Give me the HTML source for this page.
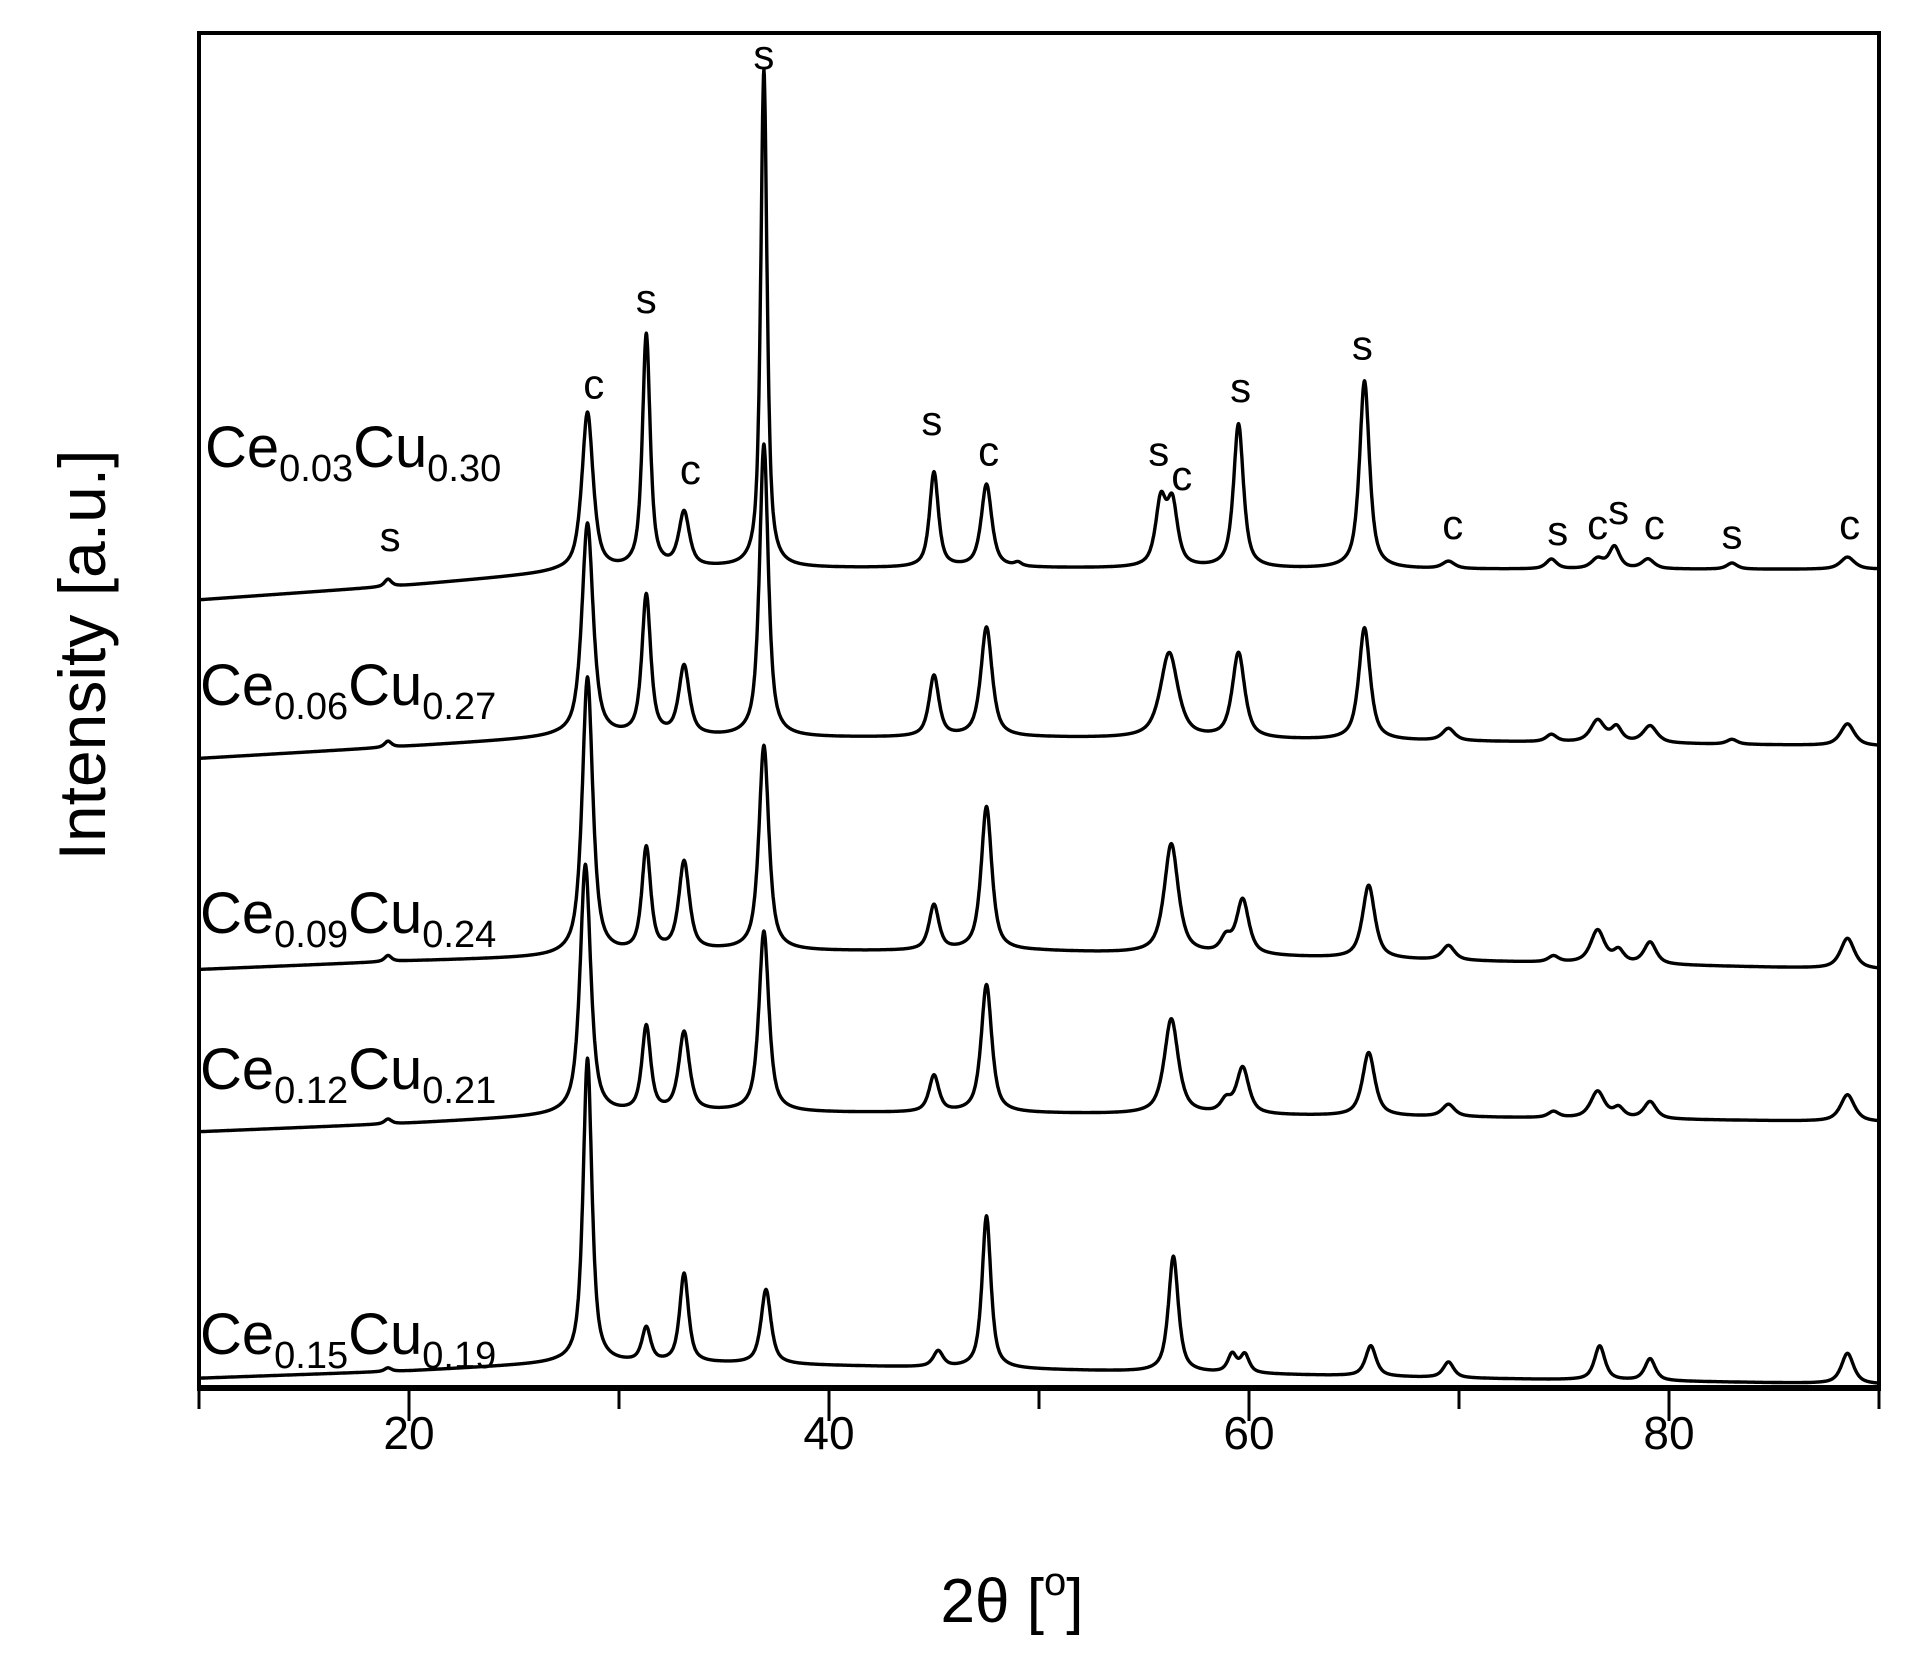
<!DOCTYPE html>
<html><head><meta charset="utf-8"><style>
html,body{margin:0;padding:0;background:#fff;}
svg{display:block;font-family:"Liberation Sans",Arial,sans-serif;}
</style></head><body>
<svg id="chart" width="1913" height="1670" viewBox="0 0 1913 1670" xmlns="http://www.w3.org/2000/svg">
<g id="series"></g>
<g id="labels"></g>
<rect x="199" y="33" width="1680" height="1355" fill="none" stroke="#000" stroke-width="4"/>
<line x1="197" y1="1388" x2="1881" y2="1388" stroke="#000" stroke-width="6"/>
<g id="xticks"></g>
<text x="1012" y="1622" font-size="62" text-anchor="middle">2θ [<tspan font-size="40" dy="-27">o</tspan><tspan dy="27">]</tspan></text>
<text transform="translate(105,655) rotate(-90)" font-size="66" text-anchor="middle">Intensity [a.u.]</text>
</svg>
<script>
// sample names
const sampleCe = ["0.03","0.06","0.09","0.12","0.15"];
const sampleCu = ["0.30","0.27","0.24","0.21","0.19"];
// baseline knots (2θ, intensity) per sample
const baseX = [10,20,27,35,50,70,90];
const baseY = [
 [646,658,668,672,672,671,671],
 [516,526,533,533,533,530,526],
 [343,350,353,358,358,350,343],
 [210,217,223,226,225,222,218],
 [8,14,20,20,15,8,3]
];
// peak positions, heights, widths
const peakPos = [
 [19,28.5,31.3,33.1,36.9,45.0,47.5,49.0,55.8,56.35,59.5,65.5,69.5,74.4,76.6,77.4,79.0,83.0,88.5],
 [19,28.5,31.3,33.1,36.9,45.0,47.5,56.2,59.5,65.5,69.5,74.4,76.6,77.5,79.1,83.0,88.5],
 [19,28.5,31.3,33.1,36.9,45.0,47.5,56.3,58.9,59.7,65.7,69.5,74.5,76.6,77.6,79.1,88.5],
 [19,28.4,31.3,33.1,36.9,45.0,47.5,56.3,58.9,59.7,65.7,69.5,74.5,76.6,77.6,79.1,88.5],
 [19,28.5,31.3,33.1,37.0,45.2,47.5,56.4,59.2,59.8,65.8,69.5,76.7,79.1,88.5]
];
const peakH = [
 [6,130,192,45,408,78,68,3,52,50,118,154,6,8,8,18,8,5,10],
 [5,175,115,57,240,50,90,70,70,92,10,6,18,12,14,4,18],
 [5,228,85,73,168,37,118,90,12,45,60,12,5,27,10,18,25],
 [4,205,70,65,148,30,105,78,10,38,52,10,5,22,8,14,22],
 [3,250,28,73,61,13,125,95,15,15,25,13,28,18,25]
];
const peakW = [
 [0.2,0.32,0.22,0.3,0.18,0.25,0.3,0.2,0.3,0.3,0.28,0.28,0.35,0.3,0.35,0.3,0.35,0.3,0.4],
 [0.2,0.32,0.25,0.3,0.25,0.28,0.32,0.5,0.35,0.32,0.35,0.3,0.4,0.3,0.4,0.3,0.4],
 [0.2,0.3,0.25,0.3,0.28,0.28,0.3,0.4,0.3,0.35,0.35,0.35,0.3,0.4,0.3,0.35,0.4],
 [0.2,0.3,0.25,0.3,0.28,0.28,0.3,0.4,0.3,0.35,0.35,0.35,0.3,0.4,0.3,0.35,0.4],
 [0.2,0.25,0.25,0.25,0.28,0.28,0.25,0.28,0.25,0.25,0.3,0.3,0.3,0.3,0.35]
];
const labelY = [755,560,373,245,28];
// peak annotation letters
const annText = ["s","c","s","c","s","s","c","s","c","s","s","c","s","c","s","c","s","c"];
const annX = [19.1,28.8,31.3,33.4,36.9,44.9,47.6,55.7,56.8,59.6,65.4,69.7,74.7,76.6,77.6,79.3,83.0,88.6];
const annI = [686,811,881,741,1081,781,756,756,736,808,843,696,691,696,708,696,688,696];
const xTicks = [20,40,60,80];

const X0=199,X1=1879,XMIN=10,XMAX=90;
const xs = v => X0 + (v-XMIN)/(XMAX-XMIN)*(X1-X0);
const ys = i => 1388 - i*1.22;
const NS="http://www.w3.org/2000/svg";
function interpBase(k,x){
  const bx=baseX,by=baseY[k];
  for(let j=0;j<bx.length-1;j++){ if(x<=bx[j+1]){const t=(x-bx[j])/(bx[j+1]-bx[j]);return by[j]+t*(by[j+1]-by[j]);} }
  return by[by.length-1];
}
function profile(x,c,w){const d=(x-c)/w;return 0.75/(1+d*d)+0.25*Math.exp(-0.693*d*d);}
const sg=document.getElementById('series');
for(let k=0;k<sampleCe.length;k++){
  let d="";
  for(let x=XMIN;x<=XMAX+1e-9;x+=0.02){
    let v=interpBase(k,x);
    for(let p=0;p<peakPos[k].length;p++) v+=peakH[k][p]*profile(x,peakPos[k][p],peakW[k][p]);
    d+=(d?"L":"M")+xs(x).toFixed(1)+" "+ys(v).toFixed(1);
  }
  const path=document.createElementNS(NS,'path');
  path.setAttribute('d',d);path.setAttribute('fill','none');path.setAttribute('stroke','#000');
  path.setAttribute('stroke-width','3.4');path.setAttribute('stroke-linejoin','round');
  
  
  sg.appendChild(path);
  const t=document.createElementNS(NS,'text');
  t.setAttribute('x',k==0?205:200);t.setAttribute('y',ys(labelY[k]));t.setAttribute('font-size','58');
  
  
  t.innerHTML='Ce<tspan font-size="38" dy="14">'+sampleCe[k]+'</tspan><tspan dy="-14">Cu</tspan><tspan font-size="38" dy="14">'+sampleCu[k]+'</tspan>';
  sg.appendChild(t);
}
const lg=document.getElementById('labels');
for(let i=0;i<annText.length;i++){
  const t=document.createElementNS(NS,'text');
  t.setAttribute('x',xs(annX[i]));t.setAttribute('y',ys(annI[i]));
  t.setAttribute('font-size','42');t.setAttribute('text-anchor','middle');
  
  
  t.textContent=annText[i];lg.appendChild(t);
}
const tg=document.getElementById('xticks');
for(let v=10;v<=90;v+=10){
  const major=(v%20===0);
  const l=document.createElementNS(NS,'line');
  l.setAttribute('x1',xs(v));l.setAttribute('x2',xs(v));l.setAttribute('y1',1388);l.setAttribute('y2',major?1421:1409);
  l.setAttribute('stroke','#000');l.setAttribute('stroke-width','3');
  
  
  tg.appendChild(l);
}
for(const v of xTicks){
  const t=document.createElementNS(NS,'text');
  t.setAttribute('x',xs(v));t.setAttribute('y',1449);t.setAttribute('font-size','46');t.setAttribute('text-anchor','middle');
  
  
  t.textContent=v;tg.appendChild(t);
}
</script>
</body></html>
